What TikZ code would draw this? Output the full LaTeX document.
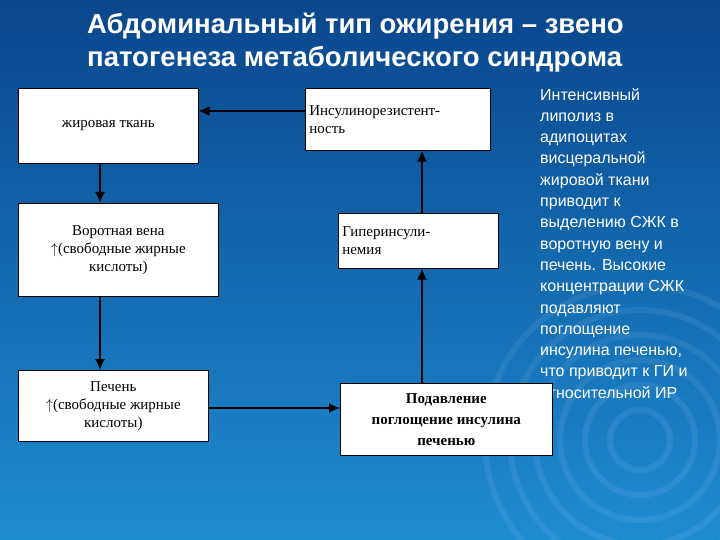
\documentclass[tikz,border=0pt]{standalone}
\usepackage{fontspec}
\setmainfont{Liberation Serif}
\newfontfamily\arial{Liberation Sans}
\usetikzlibrary{arrows.meta}
\begin{document}
\begin{tikzpicture}[x=1pt,y=-1pt,
  box/.style={draw=black,fill=white,line width=0.6pt,inner sep=2pt,font=\fontsize{15}{18}\selectfont},
  arr/.style={-{Latex[length=11pt,width=10pt]},line width=1.6pt,black}]
\shade[top color={rgb,255:red,10;green,70;blue,140},bottom color={rgb,255:red,30;green,140;blue,210}] (0,0) rectangle (720,540);
\useasboundingbox (0,0) rectangle (720,540);
\foreach \r in {30,55,80,105,130,155}
  \draw[white,opacity=0.07,line width=6pt] (640,440) circle (\r);
\node[white,font=\arial\bfseries\fontsize{27.5}{33}\selectfont,align=left,anchor=north west,inner sep=0] (t) at (87,13) {Абдоминальный тип ожирения – звено\\патогенеза метаболического синдрома};
\node[white,font=\arial\fontsize{16}{21.3}\selectfont,align=left,anchor=north west,inner sep=0] (rt) at (540,88) {Интенсивный\\липолиз в\\адипоцитах\\висцеральной\\жировой ткани\\приводит к\\выделению СЖК в\\воротную вену и\\печень. Высокие\\концентрации СЖК\\подавляют\\поглощение\\инсулина печенью,\\что приводит к ГИ и\\относительной ИР};
\node[box,minimum width=180,minimum height=75,anchor=north west] (b1) at (18,88) {жировая ткань};
\node[box,minimum width=200,minimum height=93,anchor=north west,align=center] (b2) at (18,203) {Воротная вена\\$\uparrow$(свободные жирные\\кислоты)};
\node[box,minimum width=190,minimum height=71,anchor=north west,align=center] (b3) at (18,370) {Печень\\$\uparrow$(свободные жирные\\кислоты)};
\node[box,minimum width=185,minimum height=62,anchor=north west,align=left,text width=177] (b4) at (305,88) {Инсулинорезистент-\\ность\\[16pt]};
\node[box,minimum width=160,minimum height=55,anchor=north west,align=left,text width=152] (b5) at (338,213) {Гиперинсули-\\немия};
\node[box,minimum width=212,minimum height=72,anchor=north west,align=center,font=\bfseries\fontsize{15}{21}\selectfont] (b6) at (340,383) {Подавление\\поглощение инсулина\\печенью};
\draw[arr] (b4.west|-0,111) -- (b1.east|-0,111);
\draw[arr] (b1.south-|100,0) -- (b2.north-|100,0);
\draw[arr] (b2.south-|100,0) -- (b3.north-|100,0);
\draw[arr] (b3.east|-0,408) -- (b6.west|-0,408);
\draw[arr] (b6.north-|422,0) -- (b5.south-|422,0);
\draw[arr] (b5.north-|422,0) -- (b4.south-|422,0);
\end{tikzpicture}
\end{document}
